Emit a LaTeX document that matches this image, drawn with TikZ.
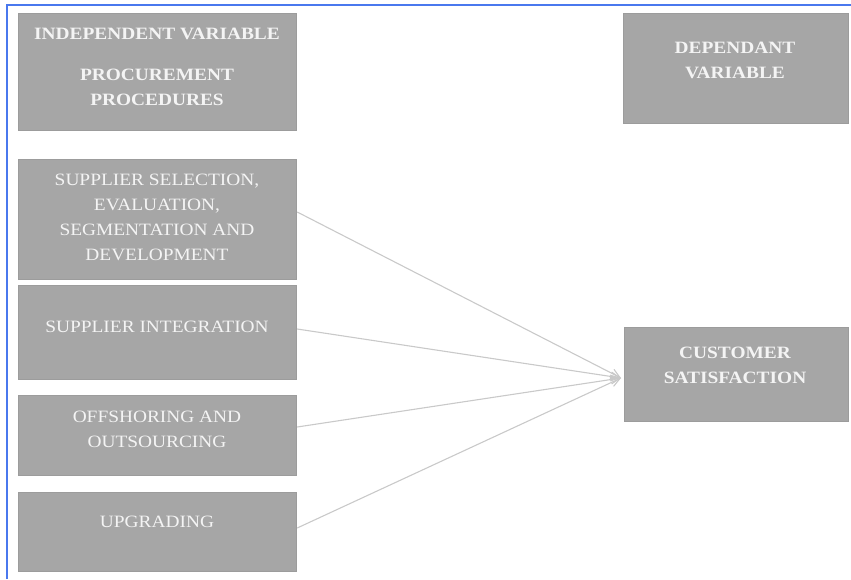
\documentclass[tikz,border=0pt]{standalone}
\usepackage{fontspec}
\setmainfont{Liberation Serif}[FakeStretch=1.12]
\usetikzlibrary{arrows.meta}
\definecolor{boxfill}{HTML}{A6A6A6}
\definecolor{boxline}{HTML}{9C9C9C}
\definecolor{txt}{HTML}{F4F4F4}
\definecolor{arr}{HTML}{C9C9C9}
\definecolor{frame}{HTML}{4A78EE}
\tikzset{
  box/.style={rectangle, fill=boxfill, draw=boxline, line width=1.2pt, inner sep=0pt, anchor=north west},
  lbl/.style={text=txt, align=center, anchor=base, inner sep=0pt, font=\fontsize{17.3}{25}\selectfont},
  hdr/.style={lbl, font=\fontsize{17.3}{25}\selectfont\bfseries},
  link/.style={draw=arr, line width=1.1pt, -{Straight Barb[length=9pt,width=9pt]}}
}
\begin{document}
\begin{tikzpicture}[x=1pt,y=-1pt]
\useasboundingbox (0,0) rectangle (851,579);
\draw[frame, line width=1.2pt] (7,579) -- (7,5) -- (851,5);
% boxes
\node[box, minimum width=278pt, minimum height=117pt] (ind) at (18,13) {};
\node[box, minimum width=225pt, minimum height=110pt] (dep) at (623,13) {};
\node[box, minimum width=278pt, minimum height=120pt] (sel) at (18,159) {};
\node[box, minimum width=278pt, minimum height=94pt] (int) at (18,285) {};
\node[box, minimum width=278pt, minimum height=80pt] (off) at (18,395) {};
\node[box, minimum width=278pt, minimum height=79pt] (upg) at (18,492) {};
\node[box, minimum width=224pt, minimum height=94pt] (cus) at (624,327) {};
% texts (anchored at the baseline of the last line)
\node[hdr] (indA) at (157,39) {INDEPENDENT VARIABLE};
\node[hdr] (indB) at (157,105) {PROCUREMENT\\PROCEDURES};
\node[hdr] (depT) at (735,78) {DEPENDANT\\VARIABLE};
\node[lbl] (selT) at (157,260) {SUPPLIER SELECTION,\\EVALUATION,\\SEGMENTATION AND\\DEVELOPMENT};
\node[lbl] (intT) at (157,332) {SUPPLIER INTEGRATION};
\node[lbl] (offT) at (157,447) {OFFSHORING AND\\OUTSOURCING};
\node[lbl] (upgT) at (157,527) {UPGRADING};
\node[hdr] (cusT) at (735,383) {CUSTOMER\\SATISFACTION};
% connectors
\coordinate (tgt) at (621,378);
\draw[link] (sel.east |- 0,212) -- (tgt);
\draw[link] (int.east |- 0,329) -- (tgt);
\draw[link] (off.east |- 0,427) -- (tgt);
\draw[link] (upg.east |- 0,528) -- (tgt);
\end{tikzpicture}
\end{document}
